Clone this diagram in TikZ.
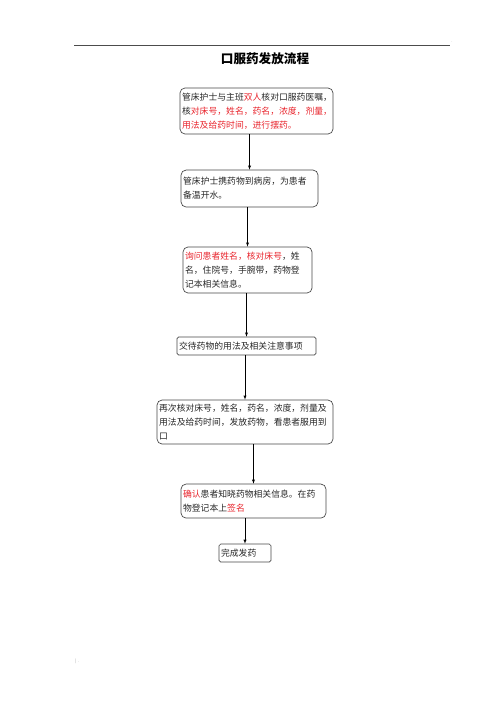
\documentclass[tikz,border=0pt]{standalone}
\usepackage{fontspec}
\setmainfont{Noto Sans CJK SC}
\tikzset{>=latex}
\definecolor{markred}{RGB}{232,36,44}
\definecolor{boxline}{RGB}{70,70,70}
\tikzset{
  flowbox/.style={draw=boxline, line width=0.8pt, rounded corners=6pt, align=left,
    inner xsep=2.5pt, inner ysep=3pt, text=black!85,
    font=\fontsize{10.5pt}{16.5pt}\selectfont},
  flatbox/.style={flowbox, rounded corners=2pt}
}
\newcommand{\hl}[1]{\textcolor{markred}{#1}}

\begin{document}
\begin{tikzpicture}[x=1.1906pt, y=-1.1906pt]
      \useasboundingbox (0,0) rectangle (500,708);
      \draw[black!70, line width=0.7pt] (74,45) -- (450,45);
      \node[text=black!40, font=\tiny] (hdr) at (452,42) {.};
      \node[text=black!40, font=\tiny] (ftr) at (77,661) {|\ \ .};
      \node[font=\fontsize{15pt}{18pt}\selectfont\bfseries] (title) at (265,59) {口服药发放流程};
      \node[flowbox, text width=177.2pt, minimum height=54.8pt] (n1) at (256.5,111) {管床护士与主班\hl{双人}核对口服药医嘱，\\核\hl{对床号，姓名，药名，浓度，剂量，}\\\hl{用法及给药时间，进行摆药。}};
      \node[flowbox, text width=158.1pt, minimum height=44pt, below of=n1, node distance=92.3pt, xshift=-8.3pt] (n2) {管床护士携药物到病房，为患者\\备温开水。};
      \node[flowbox, text width=148.6pt, minimum height=54.8pt, below of=n2, node distance=97pt, xshift=-2.4pt] (n3) {\hl{询问患者姓名，核对床号}，姓\\名，住院号，手腕带，药物登\\记本相关信息。};
      \node[flatbox, text width=160.5pt, minimum height=21.4pt, below of=n3, node distance=90.5pt, xshift=-1.2pt] (n4) {交待药物的用法及相关注意事项};
      \node[flowbox, text width=204.5pt, minimum height=52.4pt, below of=n4, node distance=90.5pt, xshift=-1.8pt] (n5) {再次核对床号，姓名，药名，浓度，剂量及\\用法及给药时间，发放药物，看患者服用到\\口};
      \node[flowbox, text width=167.6pt, minimum height=40.5pt, below of=n5, node distance=94.1pt, xshift=10.1pt] (n6) {\hl{确认}患者知晓药物相关信息。在药\\物登记本上\hl{签名}};
      \node[flatbox, text width=56.9pt, minimum height=21.4pt, below of=n6, node distance=61.9pt, xshift=-10.1pt] (n7) {完成发药};
      \draw[->, line width=0.7pt] (n1.south -| n2) -- (n2.north);
      \draw[->, line width=0.7pt] (n2.south -| n3) -- (n3.north);
      \draw[->, line width=0.7pt] (n3.south -| n4) -- (n4.north);
      \draw[->, line width=0.7pt] (n4.south -| n5) -- (n5.north);
      \draw[->, line width=0.7pt] (n5.south -| n6) -- (n6.north);
      \draw[->, line width=0.7pt] (n6.south -| n7) -- (n7.north);
\end{tikzpicture}
\end{document}
